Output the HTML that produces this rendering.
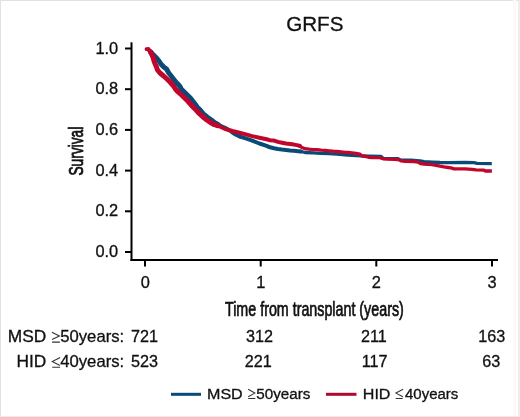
<!DOCTYPE html>
<html><head><meta charset="utf-8">
<style>
html,body{margin:0;padding:0;background:#fff;}
body{width:520px;height:417px;overflow:hidden;position:relative;}
svg{position:absolute;left:0;top:0;will-change:transform;}
text{font-family:"Liberation Sans",sans-serif;fill:#111;stroke:#111;stroke-width:0.3px;}
</style></head><body>
<svg width="520" height="417" viewBox="0 0 520 417">
<rect x="0" y="0" width="520" height="417" fill="#fff"/>
<!-- frame -->
<rect x="0" y="0" width="520" height="1" fill="#e2e2e2"/>
<rect x="0" y="0" width="1" height="417" fill="#e2e2e2"/>
<rect x="513" y="0" width="3" height="417" fill="#fafafa"/>
<rect x="518" y="0" width="2" height="417" fill="#ededed"/>
<rect x="0" y="416" width="520" height="1" fill="#ebebeb"/>

<!-- title -->
<text x="314.8" y="31" font-size="20.6" text-anchor="middle">GRFS</text>

<!-- axes -->
<g fill="#000">
<rect x="130.5" y="42.3" width="2" height="218.7"/>
<rect x="130.5" y="259" width="367.5" height="2"/>
<!-- y ticks -->
<rect x="125" y="47.5" width="6" height="2"/>
<rect x="125" y="88.2" width="6" height="2"/>
<rect x="125" y="128.9" width="6" height="2"/>
<rect x="125" y="169.6" width="6" height="2"/>
<rect x="125" y="210.3" width="6" height="2"/>
<rect x="125" y="251" width="6" height="2"/>
<!-- x ticks -->
<rect x="144" y="260" width="2" height="6.5"/>
<rect x="259.7" y="260" width="2" height="6.5"/>
<rect x="375.3" y="260" width="2" height="6.5"/>
<rect x="491" y="260" width="2" height="6.5"/>
</g>

<!-- y labels -->
<g font-size="15.6" text-anchor="end">
<text transform="translate(118.2,53.5) scale(1.05,1)">1.0</text>
<text transform="translate(118.2,94.2) scale(1.05,1)">0.8</text>
<text transform="translate(118.2,134.9) scale(1.05,1)">0.6</text>
<text transform="translate(118.2,175.6) scale(1.05,1)">0.4</text>
<text transform="translate(118.2,216.3) scale(1.05,1)">0.2</text>
<text transform="translate(118.2,257) scale(1.05,1)">0.0</text>
</g>
<!-- x labels -->
<g font-size="15.6" text-anchor="middle">
<text transform="translate(145.3,287.5) scale(1.05,1)">0</text>
<text transform="translate(260.7,287.5) scale(1.05,1)">1</text>
<text transform="translate(376.3,287.5) scale(1.05,1)">2</text>
<text transform="translate(492,287.5) scale(1.05,1)">3</text>
</g>

<!-- axis titles (condensed) -->
<text transform="translate(225,316) scale(0.733,1)" font-size="19.5" style="stroke-width:0.7px">Time from transplant (years)</text>
<text transform="translate(82.8,175.6) rotate(-90) scale(0.66,1)" font-size="20.8" style="stroke-width:0.8px">Survival</text>

<!-- risk table -->
<g font-size="16.2">
<text transform="translate(46.3,342.2) scale(1.07,1)" text-anchor="end">MSD</text>
<text transform="translate(46.3,367.2) scale(1.07,1)" text-anchor="end">HID</text>
<text transform="translate(124.2,342.2) scale(1.03,1)" text-anchor="end">50years:</text>
<text transform="translate(124.2,367.2) scale(1.03,1)" text-anchor="end">40years:</text>
<g fill="none" stroke="#333" stroke-width="1.1">
<path d="M51.9,332.3 L59.4,336 L52.1,339.6 M52.1,342.1 H59.9"/>
<path d="M60.2,357.4 L52.3,361.4 L59.9,365.4 M52.2,367.2 H60.1"/>
</g>
<g text-anchor="middle">
<text x="144.4" y="342.2">721</text>
<text x="259.4" y="342.2">312</text>
<text x="373.8" y="342.2">211</text>
<text x="491.8" y="342.2">163</text>
<text x="144.6" y="367.2">523</text>
<text x="258.2" y="367.2">221</text>
<text x="374.7" y="367.2">117</text>
<text x="491.2" y="367.2">63</text>
</g>
</g>

<!-- legend -->
<rect x="171" y="392.8" width="30" height="3" fill="#0a4a76"/>
<text transform="translate(207,398.9) scale(1.11,1)" font-size="14.5">MSD</text>
<text transform="translate(256.2,398.9) scale(1.05,1)" font-size="14.5">50years</text>
<g fill="none" stroke="#333" stroke-width="1.05">
<path d="M248.2,389.2 L254.8,393.1 L248.2,396.8 M248.2,398.4 H255.3"/>
<path d="M403.1,389.3 L395.9,393.1 L402.9,396.8 M395.7,398.4 H402.7"/>
</g>
<rect x="326" y="392.8" width="30.5" height="3" fill="#ad0a2e"/>
<text transform="translate(362.8,398.9) scale(1.11,1)" font-size="14.5">HID</text>
<text transform="translate(405,398.9) scale(1.035,1)" font-size="14.5">40years</text>

<!-- curves -->
<g id="curves" fill="none" stroke-linejoin="round" stroke-linecap="round">
<polyline stroke="#0a4a76" stroke-width="3.8" points="148.8,50.2 150.5,51.8 152.5,54"/>
<polyline stroke="#0a4a76" stroke-width="5.0" points="150.5,51.8 152.5,54 154.5,56 156.5,58 159,61 160.9,64 163.8,67 166.5,69 168.8,73 171.2,76 173.5,79 175.8,82 178.8,85 180.3,87 181.2,89 184.2,92 187.3,95 190.4,98 192.7,101 195,104 197.1,107 200.2,110 203.3,113.8 207.1,117 211.7,120.2 214.8,122.8 218,124.4"/>
<polyline stroke="#0a4a76" stroke-width="4.0" points="214.8,122.8 218,124.4 221,126 225,127.8 229,130 232.4,132.5 236,134.8 239.6,136.5 245,138.2 252.2,140.6 259.4,143.5 266.6,145.8 270,147.3 274,148.3 278,149 282,149.6 286,150 290,150.4 294,150.7 298,151.2 301,151.5"/>
<polyline stroke="#0a4a76" stroke-width="3.3" stroke-linecap="butt" points="298,151.2 301,151.5 305,152.5 313,152.9 321,153.3 329,153.7 337,154.2 345,154.8 348,155.2 356,155.6 369,156.1 381,156.4 383,158.3 398,158.7 400,159.8 411,160.1 420,160.8 424,161.7 432,162.1 440,162.5 448,162.7 465,162.5 474,162.7 477,163.3 491.8,163.6"/>
<polyline stroke="#c0062c" stroke-width="3.8" points="146.5,49.2 148.5,49 150.4,52 152.1,55"/>
<polyline stroke="#c0062c" stroke-width="5.0" points="150.4,52 152.1,55 153.3,58 154,61 155.2,64 156.5,67 157.5,70 160,73 163.6,76 166.9,79 170,82 172.7,85 174.2,87 175.4,89 178.1,92 181.5,95 184.6,98 187.7,101 190.4,104 193,107 196.1,110 199.2,113.5 202.7,116.7 206.5,119.7 210.4,122.5 214,124.5 217.5,125.7"/>
<polyline stroke="#c0062c" stroke-width="4.0" points="214,124.5 217.5,125.7 220.8,127 225.2,129 232.4,131 239.6,132.8 245,134.1 252.2,136.1 259.4,137.7 266.6,139.3 270,140.2 274,140.6 278,141.9 282,142.7 286,143.5 290,144 294,144.6 298,145.4 300,146"/>
<polyline stroke="#c0062c" stroke-width="3.3" stroke-linecap="butt" points="298,145.4 300,146 301.5,147.3 305,148.7 309,149.2 313,149.6 317,149.6 321,150.2 325,150.4 329,150.8 333,151.2 337,151.5 341,151.9 345,152.3 348,152.5 352,152.9 356,153.5 360,154.2 361.5,155.8 366,156.5 369,157.3 372,157.7 380,157.7 383,158.8 387,159.1 395,159.4 399.5,159.8 401,160.9 405,161.3 414,161.5 418,162.1 420.5,163.5 424,164 428,164.3 432,164.6 436,165.4 440,166.2 444,166.9 448,167.5 451,167.9 454,168.8 465,168.8 472,169.3 476,169.8 484,170.2 485.5,171 491.9,171"/>
</g>
</svg>
</body></html>
